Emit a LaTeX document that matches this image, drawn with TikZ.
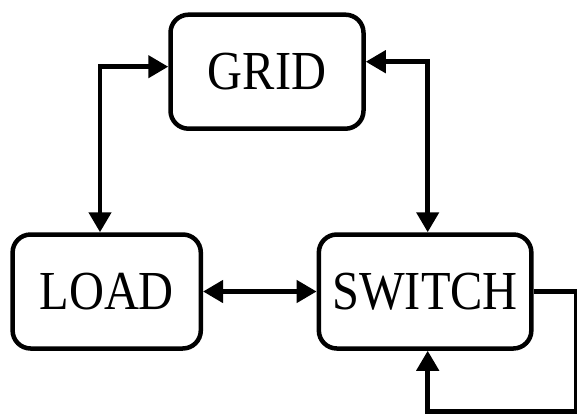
\documentclass[tikz,border=0pt]{standalone}
\usepackage{fontspec}
\setmainfont[FakeStretch=0.88]{Liberation Serif}
\usetikzlibrary{arrows.meta}
\begin{document}
\begin{tikzpicture}[x=1pt,y=-1pt,
  box/.style={draw, line width=4.5pt, rounded corners=18pt, inner sep=0pt,
    minimum height=114pt, font=\fontsize{55}{60}\selectfont},
  conn/.style={line width=4.5pt},
  >={Triangle[length=20pt,width=22pt]}]
\useasboundingbox (0,0) rectangle (577,414);
\node[box, minimum width=193pt] (GRID) at (267,71.7) {GRID};
\node[box, minimum width=188.2pt] (LOAD) at (106.7,291.5) {LOAD};
\node[box, minimum width=212.5pt] (SWITCH) at (425.1,291.5) {SWITCH};
\coordinate (loop) at (576,411.5);
\draw[conn, <->] ([yshift=5pt]GRID.west) -| ([xshift=-6.7pt]LOAD.north);
\draw[conn, <->] ([yshift=10pt]GRID.east) -| ([xshift=2.6pt]SWITCH.north);
\draw[conn, <->] (LOAD.east) -- (SWITCH.west);
\draw[conn, ->] (SWITCH.east) -| (loop) -| ([xshift=2.6pt]SWITCH.south);
\end{tikzpicture}
\end{document}
